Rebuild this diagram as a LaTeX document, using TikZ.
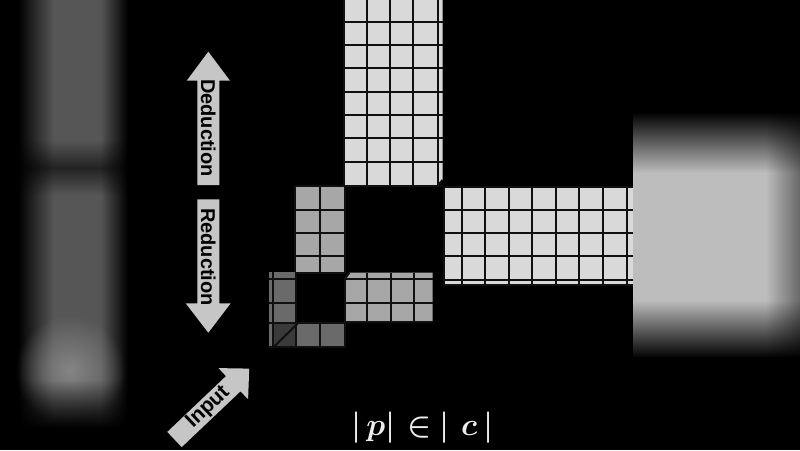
\documentclass[tikz,border=0pt]{standalone}
\usepackage{fontspec}
\newfontfamily\labfont{Liberation Sans}
\usetikzlibrary{fadings}
\definecolor{Lg}{HTML}{D9D9D9}
\definecolor{Mg}{HTML}{A7A7A7}
\definecolor{Dg}{HTML}{6A6A6A}
\definecolor{DDg}{HTML}{3A3A3A}
\definecolor{Ag}{HTML}{C6C6C6}
\definecolor{gridc}{HTML}{101010}
\definecolor{Bl}{HTML}{565656}
\definecolor{Bb}{HTML}{858585}
\definecolor{Rg}{HTML}{BDBDBD}
\definecolor{eqc}{HTML}{EDEDED}
\tikzfading[name=fuzzy, inner color=transparent!0, outer color=transparent!100]
\begin{document}
\begin{tikzpicture}[x=1pt,y=-1pt,
  gl/.style={draw=gridc, line width=2pt},
  lab/.style={font=\labfont\bfseries\fontsize{20}{24}\selectfont, text=black, inner sep=0pt},
  blockarrow/.style={fill=Ag}]
\useasboundingbox (0,0) rectangle (800,450);
\fill[black] (0,0) rectangle (800,450);
% ---- left blurred margin
\shade[left color=black, right color=Bl] (18,0) rectangle (53.5,428);
\fill[Bl] (53,0) rectangle (100.5,428);
\shade[left color=Bl, right color=black] (100,0) rectangle (128,428);
\fill[black, fill opacity=0.6, path fading=north] (0,140) rectangle (165,168);
\fill[black, fill opacity=0.6, path fading=south] (0,167.5) rectangle (165,195);
\fill[Bb, path fading=fuzzy] (70,370) circle (55);
\fill[black, path fading=north] (0,380) rectangle (165,428.5);
% ---- right blurred margin
\shade[top color=black, bottom color=Rg] (633,112) rectangle (800,173);
\fill[Rg] (633,172.5) rectangle (800,300.5);
\shade[top color=Rg, bottom color=black] (633,300) rectangle (800,358);
\fill[black, fill opacity=0.45, path fading=west] (766,100) rectangle (800,370);
% ---- top grid
\fill[Lg] (344,-5) -- (442.5,-5) -- (442.5,180) -- (437.5,185.7) -- (344,185.7) -- cycle;
\foreach \x in {344,366.7,390,413.3,437.5} \draw[gl] (\x,-5) -- (\x,185.7);
\foreach \y in {-1.6,21.7,45,68.3,91.7,115,138.3,161.7,185.7} \draw[gl] (344,\y) -- (442.5,\y);
\draw[gl] (437.5,185.7) -- (442.5,180);
% ---- right grid
\fill[Lg] (443.5,186.5) rectangle (633,285);
\foreach \x in {443.5,461.7,485,508.5,532,555.5,579,602.5,626.5} \draw[gl] (\x,186.5) -- (\x,285);
\foreach \y in {186.5,209.5,233,256,279.5,285} \draw[gl] (443.5,\y) -- (633,\y);
% ---- middle-left grid
\fill[Mg] (295,186) rectangle (345,272.5);
\foreach \x in {295,320,345} \draw[gl] (\x,186) -- (\x,272.5);
\foreach \y in {186,209.5,233,256,272.5} \draw[gl] (295,\y) -- (345,\y);
% ---- middle-right grid
\fill[Mg] (344.5,279.3) -- (349.5,272.5) -- (432.7,272.5) -- (432.7,322) -- (344.5,322) -- cycle;
\foreach \x in {367.3,390.7,414} \draw[gl] (\x,272.5) -- (\x,322);
\draw[gl] (344.5,279.3) -- (344.5,322);
\foreach \y in {279.3,302.7,322} \draw[gl] (344.5,\y) -- (432.7,\y);
\draw[gl] (344.5,279.3) -- (349.5,272.5);
% ---- bottom-left grid
\fill[Dg] (269,272) -- (296,272) -- (296,322.7) -- (345,322.7) -- (345,347.3) -- (269,347.3) -- cycle;
\fill[DDg] (273.3,322.7) rectangle (295.7,347.3);
\foreach \x in {273.3,295.7} \draw[gl] (\x,272) -- (\x,347.3);
\foreach \x in {320,345} \draw[gl] (\x,322.7) -- (\x,347.3);
\foreach \y in {279.3,302.7} \draw[gl] (269,\y) -- (296,\y);
\draw[gl] (269,322.7) -- (345,322.7);
\draw[gl] (269,347.3) -- (345,347.3);
\draw[gl] (273.3,347.3) -- (298.5,322.7);
% ---- block arrows
\fill[blockarrow] (197.3,185) -- (197.3,80.7) -- (186.7,80.7) -- (208.3,51.7) -- (230,80.7) -- (219.3,80.7) -- (219.3,185) -- cycle;
\fill[blockarrow] (197.3,199.3) -- (219.3,199.3) -- (219.3,303.3) -- (230.7,303.3) -- (208.3,332.7) -- (185.7,303.3) -- (197.3,303.3) -- cycle;
\fill[blockarrow] (167.3,431.9) -- (226.0,376.1) -- (218.5,368.1) -- (249.2,368.6) -- (248.1,399.3) -- (240.5,391.3) -- (181.7,447.1) -- cycle;
\node[lab, rotate=-90] (ded) at (208.3,128) {Deduction};
\node[lab, rotate=-90] (red) at (208.3,257) {Reduction};
\node[lab, rotate=43.5, font=\labfont\bfseries\fontsize{21}{24}\selectfont] (inp) at (208.2,407.5) {Input};
% ---- formula
\node[text=eqc, inner sep=0pt, anchor=base west, scale=1.266, font=\Huge\boldmath] (eq) at (351.7,435.4)
  {$|$\hspace{3.5pt}$p$\hspace{0.1pt}$|$\hspace{9.4pt}$\in$\hspace{6.24pt}$|$\hspace{9.16pt}$c$\hspace{4.98pt}$|$};
\end{tikzpicture}
\end{document}
